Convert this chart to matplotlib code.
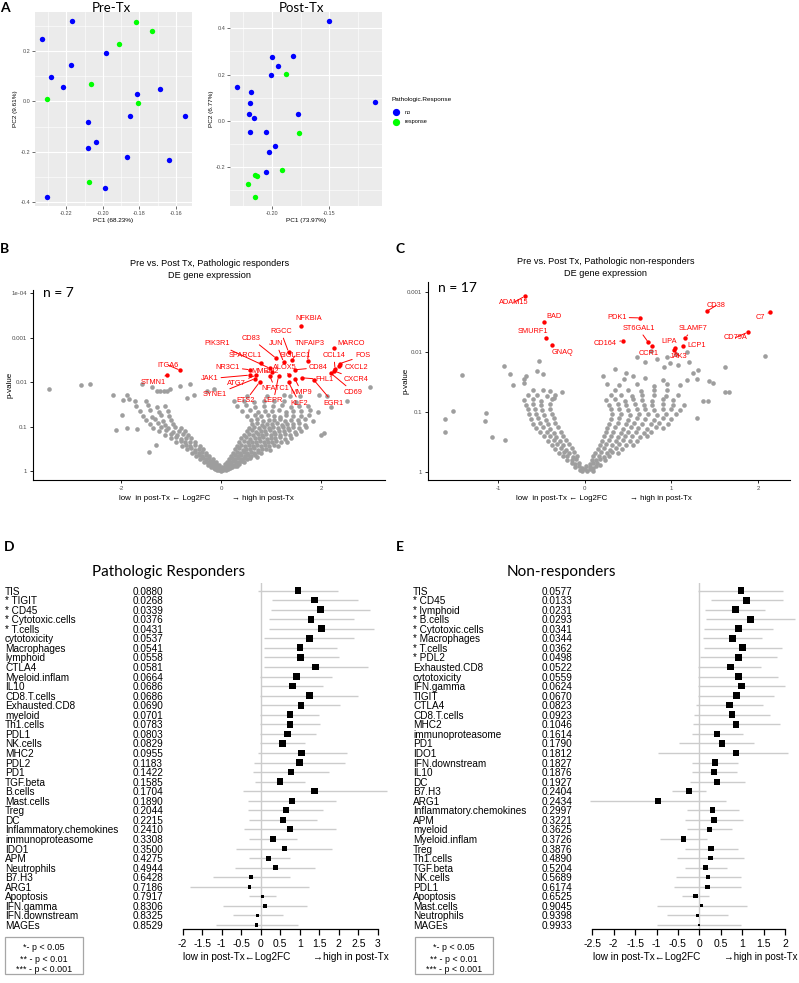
import matplotlib
matplotlib.use("Agg")
import matplotlib.pyplot as plt
from matplotlib.lines import Line2D
from matplotlib.patches import Rectangle
from matplotlib.ticker import FuncFormatter
from matplotlib.transforms import blended_transform_factory

plt.rcParams['font.family'] = ['Liberation Sans', 'DejaVu Sans']
plt.rcParams['axes.unicode_minus'] = False

# ---------------- A: PCA ----------------
pre_no_pc1 = [-0.2333, -0.2169, -0.1982, -0.2174, -0.2285, -0.2217, -0.1687, -0.1810, -0.1850,
              -0.1550, -0.2082, -0.2039, -0.2084, -0.1866, -0.1635, -0.1988, -0.2307]
pre_no_pc2 = [0.247, 0.319, 0.192, 0.145, 0.095, 0.056, 0.049, 0.031, -0.056,
              -0.056, -0.083, -0.161, -0.185, -0.220, -0.233, -0.343, -0.379]
pre_resp_pc1 = [-0.1816, -0.1729, -0.1914, -0.2063, -0.2307, -0.1805, -0.2076]
pre_resp_pc2 = [0.315, 0.279, 0.228, 0.067, 0.008, -0.008, -0.319]

post_no_pc1 = [-0.2303, -0.2181, -0.2189, -0.2197, -0.2153, -0.2186, -0.1503, -0.2000, -0.1816,
               -0.1943, -0.2006, -0.1104, -0.1769, -0.2053, -0.1969, -0.2025, -0.2048]
post_no_pc2 = [0.144, 0.126, 0.079, 0.028, 0.014, -0.047, 0.432, 0.277, 0.281,
               0.238, 0.200, 0.083, 0.029, -0.047, -0.109, -0.134, -0.220]
post_resp_pc1 = [-0.2147, -0.2133, -0.2209, -0.2142, -0.1879, -0.1765, -0.1909]
post_resp_pc2 = [-0.233, -0.238, -0.273, -0.330, 0.204, -0.054, -0.211]

# ---------------- B: volcano responders (log2FC, -log10 p) ----------------
b_background = [
    (-0.12, 0.05), (-0.08, 0.02), (-0.04, 0.04), (0.0, 0.01), (0.03, 0.03), (0.06, 0.05), (0.1, 0.02), (0.14, 0.06),
    (-0.2, 0.1), (-0.15, 0.08), (-0.1, 0.11), (-0.05, 0.08), (0.02, 0.1), (0.07, 0.09), (0.12, 0.11), (0.17, 0.08),
    (0.22, 0.1), (0.27, 0.12),
    (-0.27, 0.15), (-0.22, 0.17), (-0.16, 0.14), (-0.1, 0.16), (-0.04, 0.14), (0.08, 0.16), (0.14, 0.14), (0.2, 0.17),
    (0.26, 0.15), (0.31, 0.13), (0.36, 0.17),
    (-0.34, 0.22), (-0.28, 0.2), (-0.22, 0.23), (-0.16, 0.21), (-0.1, 0.2), (0.12, 0.22), (0.18, 0.2), (0.24, 0.23),
    (0.3, 0.21), (0.36, 0.2), (0.41, 0.23), (0.46, 0.21),
    (-0.42, 0.28), (-0.36, 0.3), (-0.3, 0.27), (-0.24, 0.29), (-0.17, 0.28), (0.16, 0.28), (0.22, 0.3), (0.28, 0.27),
    (0.34, 0.29), (0.4, 0.28), (0.46, 0.3), (0.52, 0.27), (0.58, 0.3),
    (-0.5, 0.35), (-0.44, 0.37), (-0.38, 0.34), (-0.31, 0.36), (-0.24, 0.35), (0.2, 0.35), (0.27, 0.37), (0.33, 0.34),
    (0.4, 0.36), (0.47, 0.35), (0.53, 0.37), (0.6, 0.34), (0.67, 0.36), (0.72, 0.33),
    (-0.58, 0.42), (-0.52, 0.44), (-0.45, 0.41), (-0.38, 0.43), (-0.3, 0.42), (0.24, 0.42), (0.31, 0.44), (0.38, 0.41),
    (0.45, 0.43), (0.52, 0.42), (0.59, 0.44), (0.66, 0.41), (0.73, 0.43), (0.8, 0.42), (-1.45, 0.43),
    (-0.68, 0.5), (-0.6, 0.52), (-0.52, 0.49), (-0.44, 0.51), (-0.36, 0.5), (0.27, 0.5), (0.35, 0.52), (0.43, 0.49),
    (0.5, 0.51), (0.58, 0.5), (0.66, 0.52), (0.74, 0.49), (0.82, 0.51), (0.9, 0.5), (0.98, 0.48),
    (-0.78, 0.58), (-0.7, 0.6), (-0.62, 0.57), (-0.53, 0.59), (-0.43, 0.58), (-1.3, 0.6), (0.32, 0.58), (0.4, 0.6),
    (0.48, 0.57), (0.56, 0.59), (0.64, 0.58), (0.72, 0.6), (0.8, 0.57), (0.88, 0.59), (0.96, 0.58), (1.05, 0.6),
    (1.14, 0.57),
    (-0.9, 0.66), (-0.8, 0.68), (-0.72, 0.65), (-0.63, 0.67), (-0.52, 0.66), (0.36, 0.66), (0.45, 0.68), (0.53, 0.65),
    (0.61, 0.67), (0.69, 0.66), (0.77, 0.68), (0.85, 0.65), (0.93, 0.67), (1.01, 0.66), (1.1, 0.68), (1.2, 0.65),
    (1.32, 0.67),
    (-1.0, 0.74), (-0.9, 0.76), (-0.81, 0.73), (-0.71, 0.75), (-0.6, 0.74), (0.4, 0.74), (0.49, 0.76), (0.58, 0.73),
    (0.67, 0.75), (0.75, 0.74), (0.84, 0.76), (0.92, 0.73), (1.0, 0.75), (1.08, 0.74), (1.17, 0.76), (1.27, 0.73),
    (1.4, 0.75),
    (-1.12, 0.82), (-1.0, 0.84), (-0.88, 0.81), (-0.77, 0.83), (-0.66, 0.82), (0.46, 0.82), (0.55, 0.84), (0.64, 0.81),
    (0.73, 0.83), (0.82, 0.82), (0.9, 0.84), (0.99, 0.81), (1.08, 0.83), (1.17, 0.82), (1.27, 0.84), (1.38, 0.81),
    (1.5, 0.83), (2.05, 0.86), (2.0, 0.82),
    (-2.09, 0.92), (-1.87, 0.98), (-1.68, 0.95), (-1.24, 0.9), (-1.1, 0.92), (-0.96, 0.89), (-0.84, 0.91), (-0.72, 0.9),
    (0.52, 0.9), (0.61, 0.92), (0.7, 0.89), (0.79, 0.91), (0.88, 0.9), (0.97, 0.92), (1.06, 0.89), (1.15, 0.91),
    (1.25, 0.9), (1.35, 0.92), (1.47, 0.89), (1.6, 0.91),
    (-1.36, 0.98), (-1.2, 1.0), (-1.06, 0.97), (-0.93, 0.99), (-0.8, 0.98), (0.56, 0.98), (0.66, 1.0), (0.76, 0.97),
    (0.86, 0.99), (0.95, 0.98), (1.04, 1.0), (1.13, 0.97), (1.23, 0.99), (1.33, 0.98), (1.44, 1.0), (1.56, 0.97),
    (1.7, 0.99),
    (-1.42, 1.06), (-1.27, 1.08), (-1.12, 1.05), (-0.97, 1.07), (0.62, 1.06), (0.72, 1.08), (0.82, 1.05), (0.92, 1.07),
    (1.02, 1.06), (1.12, 1.08), (1.22, 1.05), (1.32, 1.07), (1.43, 1.06), (1.55, 1.08), (1.68, 1.05),
    (-1.5, 1.15), (-1.32, 1.17), (-1.16, 1.14), (-1.01, 1.16), (0.6, 1.15), (0.72, 1.17), (0.84, 1.14), (0.95, 1.16),
    (1.06, 1.15), (1.17, 1.17), (1.28, 1.14), (1.4, 1.16), (1.53, 1.15), (1.68, 1.17), (1.84, 1.14),
    (-1.97, 1.27), (-1.56, 1.25), (-1.38, 1.23), (-1.2, 1.26), (-1.04, 1.24), (0.52, 1.25), (0.68, 1.27), (0.8, 1.24),
    (0.93, 1.26), (1.05, 1.25), (1.17, 1.23), (1.3, 1.26), (1.44, 1.24), (1.6, 1.25), (1.76, 1.27),
    (-1.62, 1.35), (-1.43, 1.37), (-1.24, 1.34), (-1.06, 1.36), (0.42, 1.35), (0.57, 1.37), (0.73, 1.34), (0.88, 1.36),
    (1.01, 1.35), (1.15, 1.37), (1.29, 1.34), (1.43, 1.36), (1.59, 1.35), (1.77, 1.37), (1.93, 1.34),
    (-1.7, 1.46), (-1.47, 1.48), (-1.29, 1.45), (-1.12, 1.47), (0.32, 1.46), (0.5, 1.48), (0.68, 1.45), (0.86, 1.47),
    (1.03, 1.46), (1.21, 1.48), (1.39, 1.45), (1.56, 1.47), (1.73, 1.46), (2.2, 1.44),
    (-1.73, 1.57), (-1.5, 1.58), (0.26, 1.57), (0.46, 1.59), (0.66, 1.56), (0.86, 1.58), (1.06, 1.57), (1.26, 1.59),
    (1.5, 1.56), (2.51, 1.57),
    (-1.85, 1.63), (-1.95, 1.61), (-0.69, 1.65), (0.51, 1.68), (0.91, 1.68), (1.38, 1.68), (1.58, 1.68), (2.11, 1.68),
    (-2.15, 1.72), (-1.88, 1.72), (-0.55, 1.71), (1.25, 1.72), (1.95, 1.72), (-1.29, 1.8), (-1.22, 1.8), (-1.15, 1.8),
    (-1.09, 1.8), (-0.29, 1.8), (-3.43, 1.84), (-1.02, 1.84), (-0.15, 1.85), (-2.8, 1.93), (-2.62, 1.95),
    (-1.39, 1.89), (-0.82, 1.91), (2.97, 1.89), (-1.59, 1.97), (-0.62, 1.97),
]
b_genes = ['NFKBIA', 'RGCC', 'TNFAIP3', 'MARCO', 'JUN', 'CD83', 'PIK3R1', 'SPARCL1', 'SIGLEC1', 'CCL14',
           'FOS', 'ALOX5', 'CD84', 'CXCL2', 'NR3C1', 'MMRN2', 'JAK1', 'FHL1', 'CXCR4', 'ATG7',
           'NFATC1', 'MMP9', 'CD69', 'SYNE1', 'ETS2', 'LEPR', 'KLF2', 'EGR1', 'ITGA6', 'STMN1']
b_gene_fc = [1.60, 1.35, 1.73, 2.25, 1.25, 1.10, 0.98, 0.80, 1.42, 2.28,
             2.38, 1.35, 1.48, 2.36, 0.58, 1.01, 0.57, 1.61, 2.25, 0.70,
             0.98, 1.48, 2.20, 0.68, 0.77, 1.15, 1.35, 1.85, -0.82, -1.09]
b_gene_nlogp = [3.27, 2.68, 2.48, 2.76, 2.46, 2.54, 2.31, 2.43, 2.50, 2.30,
                2.42, 2.16, 2.28, 2.36, 2.28, 2.23, 2.16, 2.10, 2.26, 2.16,
                2.13, 2.07, 2.20, 2.08, 2.00, 2.13, 2.00, 2.06, 2.27, 2.16]
b_label_pos = [(1.75, 3.42), (1.20, 3.13), (1.78, 2.87), (2.61, 2.87), (1.11, 2.86), (0.61, 2.98), (-0.07, 2.86),
               (0.48, 2.59), (1.48, 2.59), (2.26, 2.59), (2.83, 2.59), (1.28, 2.34), (1.95, 2.33), (2.71, 2.33),
               (0.13, 2.34), (0.88, 2.23), (-0.23, 2.08), (2.07, 2.06), (2.71, 2.06), (0.31, 1.97), (1.08, 1.86),
               (1.61, 1.78), (2.65, 1.78), (-0.12, 1.72), (0.49, 1.58), (1.05, 1.58), (1.57, 1.53), (2.25, 1.53),
               (-1.05, 2.38), (-1.35, 2.00)]

# ---------------- C: volcano non-responders ----------------
c_background = [
    (-0.06, 0.03), (-0.03, 0.01), (0.0, 0.04), (0.03, 0.02), (0.06, 0.04), (0.09, 0.02),
    (-0.11, 0.08), (-0.07, 0.09), (-0.03, 0.07), (0.02, 0.09), (0.06, 0.08), (0.1, 0.07), (0.13, 0.09),
    (-0.15, 0.14), (-0.11, 0.13), (-0.07, 0.15), (0.06, 0.13), (0.1, 0.15), (0.14, 0.14), (0.18, 0.12),
    (-0.2, 0.2), (-0.15, 0.19), (-0.1, 0.21), (0.08, 0.2), (0.13, 0.19), (0.18, 0.21), (0.23, 0.2),
    (-0.25, 0.26), (-0.2, 0.27), (-0.14, 0.25), (-0.09, 0.27), (0.1, 0.26), (0.16, 0.27), (0.22, 0.25), (0.28, 0.26),
    (-0.3, 0.32), (-0.24, 0.33), (-0.18, 0.31), (-0.12, 0.33), (0.12, 0.32), (0.19, 0.33), (0.26, 0.31), (0.32, 0.33),
    (0.38, 0.32),
    (-0.34, 0.38), (-0.28, 0.39), (-0.22, 0.37), (-0.15, 0.39), (0.15, 0.38), (0.22, 0.39), (0.29, 0.37), (0.36, 0.39),
    (0.43, 0.38),
    (-0.38, 0.45), (-0.32, 0.46), (-0.25, 0.44), (-0.18, 0.46), (0.18, 0.45), (0.25, 0.46), (0.32, 0.44), (0.4, 0.46),
    (0.48, 0.45), (0.56, 0.44),
    (-0.92, 0.53), (-0.42, 0.52), (-0.36, 0.53), (-0.29, 0.51), (-0.22, 0.53), (0.2, 0.52), (0.28, 0.53), (0.36, 0.51),
    (0.44, 0.53), (0.52, 0.52), (0.6, 0.51),
    (-1.07, 0.58), (-0.47, 0.59), (-0.4, 0.6), (-0.33, 0.58), (-0.25, 0.6), (0.22, 0.59), (0.3, 0.6), (0.38, 0.58),
    (0.46, 0.6), (0.55, 0.59), (0.64, 0.58), (0.72, 0.6),
    (-1.61, 0.66), (-0.52, 0.66), (-0.44, 0.67), (-0.36, 0.65), (-0.28, 0.67), (0.24, 0.66), (0.33, 0.67), (0.42, 0.65),
    (0.5, 0.67), (0.59, 0.66), (0.68, 0.65), (0.77, 0.67),
    (-0.56, 0.73), (-0.48, 0.74), (-0.4, 0.72), (-0.31, 0.74), (0.26, 0.73), (0.35, 0.74), (0.44, 0.72), (0.53, 0.74),
    (0.62, 0.73), (0.72, 0.72), (0.82, 0.74), (0.9, 0.73),
    (-0.6, 0.8), (-0.52, 0.81), (-0.43, 0.79), (-0.34, 0.81), (0.28, 0.8), (0.38, 0.81), (0.48, 0.79), (0.57, 0.81),
    (0.66, 0.8), (0.76, 0.79), (0.86, 0.81), (0.96, 0.8),
    (-1.61, 0.88), (-1.15, 0.84), (-0.62, 0.88), (-0.54, 0.89), (-0.45, 0.87), (-0.36, 0.89), (0.3, 0.88), (0.4, 0.89),
    (0.5, 0.87), (0.6, 0.89), (0.7, 0.88), (0.8, 0.87), (0.9, 0.89), (1.0, 0.88), (1.3, 0.89),
    (-1.52, 1.01), (-1.14, 0.98), (-0.64, 0.96), (-0.56, 0.97), (-0.47, 0.95), (-0.38, 0.97), (0.32, 0.96), (0.42, 0.97),
    (0.52, 0.95), (0.63, 0.97), (0.73, 0.96), (0.84, 0.95), (0.94, 0.97), (1.05, 0.96),
    (-0.66, 1.04), (-0.58, 1.05), (-0.49, 1.03), (-0.4, 1.05), (0.3, 1.04), (0.4, 1.05), (0.5, 1.03), (0.6, 1.05),
    (0.7, 1.04), (0.8, 1.03), (0.9, 1.05), (1.0, 1.04), (1.1, 1.03),
    (-0.68, 1.12), (-0.6, 1.13), (-0.5, 1.11), (-0.4, 1.13), (0.28, 1.12), (0.38, 1.13), (0.48, 1.11), (0.58, 1.13),
    (0.68, 1.12), (0.78, 1.11), (0.9, 1.13), (1.02, 1.12), (1.15, 1.11),
    (-0.7, 1.2), (-0.6, 1.21), (-0.5, 1.19), (-0.38, 1.21), (0.25, 1.2), (0.35, 1.21), (0.46, 1.19), (0.56, 1.21),
    (0.66, 1.2), (0.78, 1.19), (0.9, 1.21), (1.02, 1.2), (1.37, 1.18), (1.42, 1.18),
    (-0.66, 1.28), (-0.55, 1.29), (-0.44, 1.27), (-0.34, 1.29), (0.3, 1.28), (0.42, 1.29), (0.54, 1.27), (0.66, 1.29),
    (0.8, 1.28), (0.94, 1.27), (1.08, 1.29),
    (-0.6, 1.36), (-0.48, 1.37), (-0.4, 1.35), (-0.26, 1.33), (0.35, 1.36), (0.5, 1.37), (0.65, 1.35), (0.8, 1.37),
    (0.95, 1.36), (1.62, 1.33), (1.66, 1.33),
    (-0.83, 1.45), (-0.7, 1.48), (-0.36, 1.23), (0.4, 1.45), (0.6, 1.46), (0.8, 1.44), (1.1, 1.45), (1.43, 1.51),
    (1.48, 1.49), (0.26, 1.47), (0.95, 1.47),
    (-0.7, 1.55), (0.45, 1.55), (0.7, 1.56), (0.9, 1.54), (1.18, 1.53), (1.3, 1.55),
    (-1.42, 1.62), (-0.86, 1.64), (-0.68, 1.6), (-0.48, 1.64), (-0.55, 1.68), (0.21, 1.6), (0.48, 1.65), (0.56, 1.6),
    (1.25, 1.65), (-0.93, 1.77), (0.35, 1.71), (0.7, 1.84), (0.91, 1.75), (0.99, 1.81), (1.08, 1.78), (1.31, 1.7),
    (1.62, 1.75), (-0.53, 1.85), (0.6, 1.92), (0.77, 2.01), (0.83, 1.89), (0.95, 1.92), (1.05, 1.97), (1.18, 2.0),
    (1.2, 1.84), (2.08, 1.93),
]
c_genes = ['ADAM15', 'BAD', 'SMURF1', 'GNAQ', 'PDK1', 'ST6GAL1', 'CD164', 'CCR1', 'CD38', 'C7',
           'CD79A', 'SLAMF7', 'LCP1', 'LIPA', 'JAK3']
c_gene_fc = [-0.695, -0.476, -0.449, -0.38, 0.639, 0.735, 0.439, 0.781, 1.408, 2.14,
             1.88, 1.162, 1.139, 1.043, 1.031]
c_gene_nlogp = [2.93, 2.50, 2.24, 2.11, 2.57, 2.16, 2.19, 2.10, 2.68, 2.67,
                2.33, 2.24, 2.10, 2.07, 2.03]
c_label_pos = [(-0.82, 2.83), (-0.35, 2.60), (-0.60, 2.35), (-0.26, 2.00), (0.37, 2.58), (0.62, 2.39),
               (0.24, 2.14), (0.735, 1.98), (1.52, 2.78), (2.03, 2.58), (1.74, 2.24), (1.25, 2.39),
               (1.29, 2.11), (0.98, 2.18), (1.09, 1.93)]

# ---------------- D: forest, pathologic responders ----------------
d_names = ['TIS', '* TIGIT', '* CD45', '* Cytotoxic.cells', '* T.cells', 'cytotoxicity', 'Macrophages',
           'lymphoid', 'CTLA4', 'Myeloid.inflam', 'IL10', 'CD8.T.cells', 'Exhausted.CD8', 'myeloid',
           'Th1.cells', 'PDL1', 'NK.cells', 'MHC2', 'PDL2', 'PD1', 'TGF.beta', 'B.cells', 'Mast.cells',
           'Treg', 'DC', 'Inflammatory.chemokines', 'immunoproteasome', 'IDO1', 'APM', 'Neutrophils',
           'B7.H3', 'ARG1', 'Apoptosis', 'IFN.gamma', 'IFN.downstream', 'MAGEs']
d_pval = [0.0880, 0.0268, 0.0339, 0.0376, 0.0431, 0.0537, 0.0541, 0.0558, 0.0581, 0.0664, 0.0686, 0.0686,
          0.0690, 0.0701, 0.0783, 0.0803, 0.0829, 0.0955, 0.1183, 0.1422, 0.1585, 0.1704, 0.1890, 0.2044,
          0.2215, 0.2410, 0.3308, 0.3500, 0.4275, 0.4944, 0.6428, 0.7186, 0.7917, 0.8306, 0.8325, 0.8529]
d_fc = [0.96, 1.39, 1.54, 1.29, 1.56, 1.25, 1.01, 1.03, 1.41, 0.92, 0.81, 1.25, 1.03, 0.75, 0.75, 0.69,
        0.56, 1.05, 1.00, 0.78, 0.50, 1.38, 0.80, 0.65, 0.57, 0.74, 0.31, 0.61, 0.21, 0.37, -0.24, -0.29,
        0.04, 0.11, -0.08, -0.10]
d_lo = [-0.06, 0.30, 0.26, 0.20, 0.20, 0.09, 0.085, 0.085, 0.085, -0.02, 0.0, -0.01, 0.0, -0.03, -0.01,
        -0.02, -0.02, -0.08, -0.17, -0.19, -0.15, -0.45, -0.32, -0.32, -0.30, -0.44, -0.29, -0.63, -0.29,
        -0.66, -1.23, -1.81, -0.29, -0.96, -0.72, -1.15]
d_hi = [1.99, 2.49, 2.80, 2.38, 2.91, 2.40, 1.95, 2.00, 2.74, 1.84, 1.61, 2.49, 2.04, 1.49, 1.51, 1.42,
        1.14, 2.21, 2.16, 1.76, 1.14, 3.25, 1.93, 1.61, 1.44, 1.94, 0.92, 1.83, 0.74, 1.38, 0.75, 1.24,
        0.39, 1.18, 0.58, 0.95]

# ---------------- E: forest, non-responders ----------------
e_names = ['TIS', '* CD45', '* lymphoid', '* B.cells', '* Cytotoxic.cells', '* Macrophages', '* T.cells',
           '* PDL2', 'Exhausted.CD8', 'cytotoxicity', 'IFN.gamma', 'TIGIT', 'CTLA4', 'CD8.T.cells', 'MHC2',
           'immunoproteasome', 'PD1', 'IDO1', 'IFN.downstream', 'IL10', 'DC', 'B7.H3', 'ARG1',
           'Inflammatory.chemokines', 'APM', 'myeloid', 'Myeloid.inflam', 'Treg', 'Th1.cells', 'TGF.beta',
           'NK.cells', 'PDL1', 'Apoptosis', 'Mast.cells', 'Neutrophils', 'MAGEs']
e_pval = [0.0577, 0.0133, 0.0231, 0.0293, 0.0341, 0.0344, 0.0362, 0.0498, 0.0522, 0.0559, 0.0624, 0.0670,
          0.0823, 0.0923, 0.1046, 0.1614, 0.1790, 0.1812, 0.1827, 0.1876, 0.1927, 0.2404, 0.2434, 0.2997,
          0.3221, 0.3625, 0.3726, 0.3876, 0.4890, 0.5204, 0.5689, 0.6174, 0.6525, 0.9045, 0.9398, 0.9933]
e_fc = [0.97, 1.11, 0.84, 1.20, 0.91, 0.77, 1.01, 0.92, 0.72, 0.92, 0.99, 0.86, 0.70, 0.76, 0.86, 0.42,
        0.52, 0.85, 0.37, 0.35, 0.42, -0.25, -0.97, 0.31, 0.34, 0.23, -0.37, 0.27, 0.26, 0.15, 0.20, 0.19,
        -0.09, 0.05, -0.04, -0.01]
e_lo = [-0.03, 0.27, 0.14, 0.16, 0.10, 0.09, 0.10, 0.02, -0.02, -0.02, -0.02, -0.04, -0.07, -0.12, -0.16,
        -0.18, -0.47, -0.96, -0.18, -0.17, -0.22, -0.65, -2.55, -0.30, -0.33, -0.28, -0.92, -0.33, -0.53,
        -0.33, -0.55, -0.59, -0.41, -1.00, -0.76, -1.00]
e_hi = [1.95, 1.95, 1.54, 2.24, 1.72, 1.46, 1.93, 1.81, 1.43, 1.83, 1.99, 1.75, 1.48, 1.64, 1.89, 1.03,
        1.28, 2.08, 0.91, 0.89, 1.07, 0.15, 0.62, 0.93, 1.03, 0.76, 0.19, 0.91, 1.05, 0.64, 0.97, 0.97,
        0.23, 1.11, 0.68, 0.97]

sig_legend = ['*- p < 0.05', '** - p < 0.01', '*** - p < 0.001']

# ---------------- figure ----------------
W, H = 799, 983
fig = plt.figure(figsize=(W / 100, H / 100), dpi=100)


def rect(l, t, r, b):
    return [l / W, 1 - b / H, (r - l) / W, (b - t) / H]


def ftext(x, y, s, **kw):
    return fig.text(x / W, 1 - y / H, s, **kw)


def pca_panel(l, r, no_x, no_y, re_x, re_y, xlim, ylim, xmaj, xmin, ymaj, ymin, xlab, ylab):
    ax = fig.add_axes(rect(l, 12, r, 206))
    ax.set_facecolor('#EBEBEB')
    ax.scatter(no_x, no_y, s=15, c='#0000FF', lw=0, zorder=3)
    ax.scatter(re_x, re_y, s=15, c='#00FF00', lw=0, zorder=3)
    ax.set_xlim(xlim)
    ax.set_ylim(ylim)
    ax.set_xticks(xmaj)
    ax.set_xticks(xmin, minor=True)
    ax.set_yticks(ymaj)
    ax.set_yticks(ymin, minor=True)
    ax.set_xticklabels(['%.2f' % v for v in xmaj])
    ax.set_yticklabels(['%.1f' % v for v in ymaj])
    ax.grid(which='major', color='white', lw=0.8)
    ax.grid(which='minor', color='white', lw=0.4)
    ax.set_axisbelow(True)
    for s in ax.spines.values():
        s.set_visible(False)
    ax.tick_params(which='major', length=2, width=0.5, color='#333333', labelsize=4,
                   labelcolor='#4D4D4D', pad=1.5)
    ax.tick_params(which='minor', length=0)
    ax.set_xlabel(xlab, fontsize=4.6, labelpad=1.5)
    ax.set_ylabel(ylab, fontsize=4.6, labelpad=1.5)
    return ax


pca_panel(35, 192, pre_no_pc1, pre_no_pc2, pre_resp_pc1, pre_resp_pc2,
          (-0.2372, -0.1511), (-0.414, 0.354),
          [-0.22, -0.20, -0.18, -0.16], [-0.23, -0.21, -0.19, -0.17],
          [-0.4, -0.2, 0.0, 0.2], [-0.3, -0.1, 0.1, 0.3], 'PC1 (68.23%)', 'PC2 (9.61%)')
pca_panel(230, 382, post_no_pc1, post_no_pc2, post_resp_pc1, post_resp_pc2,
          (-0.2363, -0.1044), (-0.368, 0.470),
          [-0.20, -0.15], [-0.225, -0.175, -0.125],
          [-0.2, 0.0, 0.2, 0.4], [-0.3, -0.1, 0.1, 0.3], 'PC1 (73.97%)', 'PC2 (6.77%)')
ftext(111, 8, 'Pre-Tx', fontsize=9.5, family='Lato', ha='center', va='center')
ftext(302, 8, 'Post-Tx', fontsize=9.5, family='Lato', ha='center', va='center')

# PCA legend
ftext(392, 100, 'Pathologic.Response', fontsize=4.6, ha='left', va='center')
for yy, col, lab in [(112, '#0000FF', 'no'), (122, '#00FF00', 'response')]:
    fig.add_artist(Line2D([396 / W], [1 - yy / H], marker='o', ms=4.2, color=col, lw=0,
                          transform=fig.transFigure))
    ftext(405, yy, lab, fontsize=4, ha='left', va='center')


def volcano(l, t, r, b, xlim, ylim, xticks, yticks, ylabels, bg, names, fc, nlogp, lpos):
    ax = fig.add_axes(rect(l, t, r, b))
    ax.scatter([p[0] for p in bg], [p[1] for p in bg], s=11, c='#9E9E9E', lw=0, zorder=2)
    ax.scatter(fc, nlogp, s=10, c='#FF0000', lw=0, zorder=3)
    for g, x, y, (lx, ly) in zip(names, fc, nlogp, lpos):
        ax.annotate(g, xy=(x, y), xytext=(lx, ly), color='#FF0000', fontsize=5.3,
                    ha='center', va='center', zorder=4,
                    arrowprops=dict(arrowstyle='-', color='#FF0000', lw=0.7, shrinkA=0, shrinkB=1.5))
    ax.set_xlim(xlim)
    ax.set_ylim(ylim)
    ax.set_xticks(xticks)
    ax.set_yticks(yticks)
    ax.set_yticklabels(ylabels)
    ax.xaxis.set_major_formatter(FuncFormatter(lambda v, _: '%g' % v))
    for s in ['top', 'right']:
        ax.spines[s].set_visible(False)
    for s in ['left', 'bottom']:
        ax.spines[s].set_linewidth(0.8)
    ax.tick_params(length=2.5, width=0.6, labelsize=4.4, labelcolor='#4D4D4D', pad=1.5)
    return ax


volcano(33, 290, 385, 480, (-3.76, 3.28), (-0.194, 4.07), [-2, 0, 2], [0, 1, 2, 3, 4],
        ['1', '0.1', '0.01', '0.001', '1e-04'], b_background, b_genes, b_gene_fc, b_gene_nlogp, b_label_pos)
volcano(428, 282, 790, 480, (-1.81, 2.37), (-0.138, 3.17), [-1, 0, 1, 2], [0, 1, 2, 3],
        ['1', '0.1', '0.01', '0.001'], c_background, c_genes, c_gene_fc, c_gene_nlogp, c_label_pos)

ftext(210, 263, 'Pre vs. Post Tx, Pathologic responders', fontsize=6.6, ha='center', va='center')
ftext(210, 275, 'DE gene expression', fontsize=6.6, ha='center', va='center')
ftext(606, 262, 'Pre vs. Post Tx, Pathologic non-responders', fontsize=6.6, ha='center', va='center')
ftext(606, 273, 'DE gene expression', fontsize=6.6, ha='center', va='center')
ftext(43, 293, 'n = 7', fontsize=10, family='Lato', ha='left', va='center')
ftext(438, 288, 'n = 17', fontsize=10, family='Lato', ha='left', va='center')
ftext(10, 385, 'p-value', fontsize=5.8, rotation=90, ha='center', va='center')
ftext(406, 381, 'p-value', fontsize=5.8, rotation=90, ha='center', va='center')
ftext(210, 498, 'low  in post-Tx \u2190 Log2FC', fontsize=5.7, ha='right', va='center')
ftext(232, 498, '\u2192 high in post-Tx', fontsize=5.7, ha='left', va='center')
ftext(607, 498, 'low  in post-Tx \u2190 Log2FC', fontsize=5.7, ha='right', va='center')
ftext(630, 498, '\u2192 high in post-Tx', fontsize=5.7, ha='left', va='center')


def forest(l, r, xlim, xticks, names, pvals, fc, lo, hi, name_x, p_x):
    ax = fig.add_axes(rect(l, 583, r, 929))
    rows = list(range(len(names)))
    ax.set_xlim(xlim)
    ax.set_ylim(35.42, -0.785)
    ax.axvline(0, color='#CCCCCC', lw=1, zorder=1)
    ax.hlines(rows, lo, hi, color='#CCCCCC', lw=1, zorder=2, clip_on=False)
    sizes = [((2.5 + 4.5 * (1 - p)) * 0.72) ** 2 for p in pvals]
    ax.scatter(fc, rows, s=sizes, marker='s', c='black', lw=0, zorder=3)
    for s in ['top', 'right', 'left']:
        ax.spines[s].set_visible(False)
    ax.spines['bottom'].set_linewidth(0.9)
    ax.set_yticks([])
    ax.set_xticks(xticks)
    ax.xaxis.set_major_formatter(FuncFormatter(lambda v, _: '%g' % v))
    ax.tick_params(axis='x', direction='out', length=4, width=0.9, labelsize=7.5, pad=3)
    tr = blended_transform_factory(fig.transFigure, ax.transData)
    for i, (n, p) in enumerate(zip(names, pvals)):
        ax.text(name_x / W, i, n, transform=tr, fontsize=7.2, ha='left', va='center_baseline')
        ax.text(p_x / W, i, '%.4f' % p, transform=tr, fontsize=7.2, ha='left', va='center_baseline')
    return ax


forest(182.7, 377.7, (-2, 3), [-2, -1.5, -1, -0.5, 0, 0.5, 1, 1.5, 2, 2.5, 3],
       d_names, d_pval, d_fc, d_lo, d_hi, 5, 133)
forest(592.3, 785, (-2.5, 2), [-2.5, -2, -1.5, -1, -0.5, 0, 0.5, 1, 1.5, 2],
       e_names, e_pval, e_fc, e_lo, e_hi, 413, 541.5)

ftext(169, 572, 'Pathologic Responders', fontsize=11, family='Lato', ha='center', va='center')
ftext(561, 572, 'Non-responders', fontsize=11, family='Lato', ha='center', va='center')
ftext(183, 957, 'low in post-Tx\u2190Log2FC', fontsize=7.2, ha='left', va='center')
ftext(313, 957, '\u2192high in post-Tx', fontsize=7.2, ha='left', va='center')
ftext(593, 957, 'low in post-Tx\u2190Log2FC', fontsize=7.2, ha='left', va='center')
ftext(797, 957, '\u2192high in post-Tx', fontsize=7.0, ha='right', va='center')

# significance legends
for x0 in (5, 415):
    fig.add_artist(Rectangle((x0 / W, 1 - 974 / H), 78 / W, 37 / H, transform=fig.transFigure,
                             fill=False, ec='#A6A6A6', lw=0.9))
    for yy, s in zip((948, 959.5, 970), sig_legend):
        ftext(x0 + 39, yy, s, fontsize=6.4, ha='center', va='center')

# panel letters
for x, y, s in [(0, 8, 'A'), (0, 249, 'B'), (395, 249, 'C'), (4, 547, 'D'), (396, 547, 'E')]:
    ftext(x, y, s, fontsize=10, family='Lato', weight='bold', ha='left', va='center')

fig.savefig('out.png', dpi=100)
